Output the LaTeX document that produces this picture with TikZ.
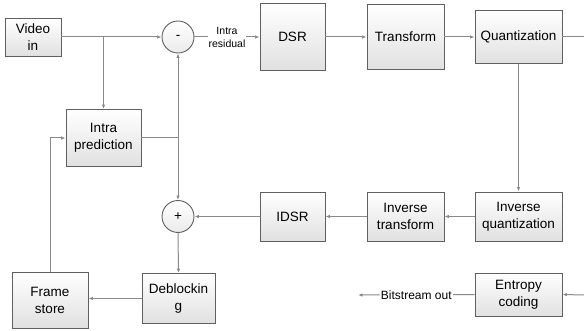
\documentclass[tikz,border=0pt]{standalone}
\usepackage{fontspec}
\setmainfont{Liberation Sans}
\usetikzlibrary{arrows.meta,shapes.geometric}
\definecolor{boxline}{HTML}{606060}
\definecolor{conn}{HTML}{8A8A8A}
\begin{document}
\begin{tikzpicture}[x=1pt,y=-1pt,
  blk/.style={draw=boxline, line width=0.9pt, top color=white, bottom color=black!12,
    inner sep=0pt, align=center, font=\fontsize{13.5}{17}\selectfont},
  sumc/.style={circle, draw=boxline, line width=0.9pt, top color=white, bottom color=black!8,
    minimum size=32pt, inner sep=0pt, font=\fontsize{13.5}{17}\selectfont},
  conline/.style={draw=conn, line width=1pt},
  arr/.style={conline, -{Latex[length=4.5pt,width=3.5pt]}},
  lbl/.style={fill=white, inner sep=1pt, align=center}
]
\useasboundingbox (0,0) rectangle (584,331);
% nodes
\node[blk, minimum width=56pt, minimum height=38pt] (vin) at (33,37) {Video\\in};
\node[sumc] (minus) at (178,37) {-};
\node[blk, minimum width=65pt, minimum height=67pt] (dsr) at (292.5,37) {DSR};
\node[blk, minimum width=77pt, minimum height=65pt] (tr) at (405.5,37) {Transform};
\node[blk, minimum width=87pt, minimum height=53pt] (q) at (518.5,37) {Quantization};
\node[blk, minimum width=75pt, minimum height=57pt] (ip) at (103.5,138) {Intra\\prediction};
\node[blk, minimum width=87pt, minimum height=49pt] (iq) at (518.5,216.5) {Inverse\\quantization};
\node[blk, minimum width=77pt, minimum height=49pt] (it) at (405.5,216.5) {Inverse\\transform};
\node[blk, minimum width=65pt, minimum height=49pt] (idsr) at (292.5,216.5) {IDSR};
\node[sumc] (plus) at (178,216.5) {+};
\node[blk, minimum width=73pt, minimum height=50pt] (db) at (178.5,298.5) {Deblockin\\g};
\node[blk, minimum width=76pt, minimum height=56pt] (fs) at (50,300) {Frame\\store};
\node[blk, minimum width=87pt, minimum height=43pt] (ec) at (518.5,294.5) {Entropy\\coding};
\coordinate (qout) at (584,37);
\coordinate (ein) at (584,295);
\coordinate (bout) at (358,295);
\coordinate (jn) at (178,138);
% connectors
\draw[arr] (vin.east) -- (minus.west);
\draw[arr] (vin.east -| ip.north) -- (ip.north);
\draw[arr] (minus.east) -- node[lbl, font=\fontsize{10.5}{13}\selectfont]{Intra\\residual} (dsr.west);
\draw[arr] (dsr.east) -- (tr.west);
\draw[arr] (tr.east) -- (q.west);
\draw[conline] (q.east) -- (qout);
\draw[arr] (q.south) -- (iq.north);
\draw[arr] (iq.west) -- (it.east);
\draw[arr] (it.west) -- (idsr.east);
\draw[arr] (idsr.west) -- (plus.east);
\draw[conline] (ip.east) -- (jn);
\draw[arr] (jn) -- (minus.south);
\draw[arr] (jn) -- (plus.north);
\draw[arr] (plus.south) -- (db.north);
\draw[arr] (db.west) -- (db.west -| fs.east);
\draw[arr] (fs.north) |- (ip.west);
\draw[arr] (ein) -- (ec.east);
\draw[arr] (ec.west) -- node[lbl, font=\fontsize{12}{14}\selectfont]{Bitstream out} (bout);
\end{tikzpicture}
\end{document}
